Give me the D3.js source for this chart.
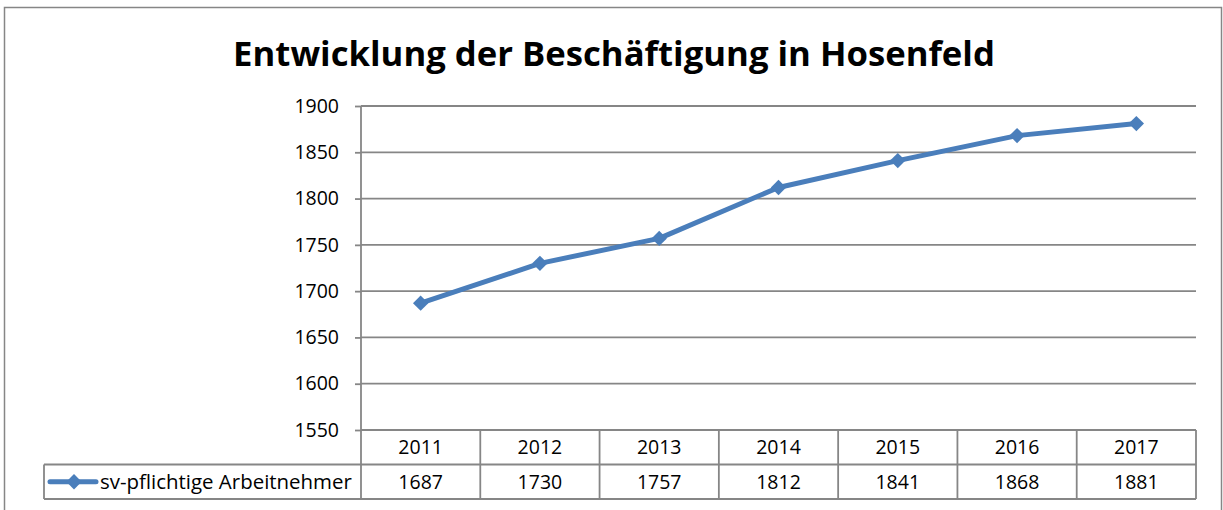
<!DOCTYPE html>
<html>
<head>
<meta charset="utf-8">
<script src="https://cdn.jsdelivr.net/npm/d3@7"></script>
<style>
  body { margin: 0; background: #fff; }
  text { font-family: "Open Sans", "Noto Sans", sans-serif; fill: #000; }
</style>
</head>
<body>
<div id="chart"></div>
<script>
// Data
const title = "Entwicklung der Beschäftigung in Hosenfeld";
const seriesName = "sv-pflichtige Arbeitnehmer";
const years = ["2011", "2012", "2013", "2014", "2015", "2016", "2017"];
const employees = [1687, 1730, 1757, 1812, 1841, 1868, 1881];
const yTicks = [1550, 1600, 1650, 1700, 1750, 1800, 1850, 1900];

const width = 1223, height = 510;
const plot = { left: 361, right: 1196, top: 106, bottom: 430 };
const rowH = 34.5;
const blue = "#4a7ebb";
const grey = "#868686";
const fontSize = "19.5px";

const svg = d3.select("#chart")
    .append("svg")
    .attr("width", width)
    .attr("height", height);

// Outer chart frame
svg.append("rect")
    .attr("x", 4.5).attr("y", 7.5)
    .attr("width", 1217).attr("height", 520)
    .attr("fill", "#fff")
    .attr("stroke", grey)
    .attr("stroke-width", 1.5);

// Title, scaled to its width in the reference
const titleText = svg.append("text")
    .attr("x", 614)
    .attr("y", 66)
    .attr("text-anchor", "middle")
    .style("font-weight", "bold")
    .style("font-size", "32px")
    .text(title);
const tw = titleText.node().getComputedTextLength();
titleText.style("font-size", (32 * 762 / tw) + "px");

// Scales
const x = d3.scaleBand()
    .domain(years)
    .range([plot.left, plot.right])
    .padding(0);

const y = d3.scaleLinear()
    .domain([1550, 1900])
    .range([plot.bottom, plot.top]);

// Gridlines
svg.append("g")
    .selectAll("line")
    .data(yTicks)
    .enter()
    .append("line")
    .attr("x1", plot.left)
    .attr("x2", plot.right)
    .attr("y1", d => y(d))
    .attr("y2", d => y(d))
    .attr("stroke", grey)
    .attr("stroke-width", 1.8);

// Y axis
const yAxis = d3.axisLeft(y)
    .tickValues(yTicks)
    .tickFormat(d3.format("d"))
    .tickSize(6)
    .tickPadding(16);

const yG = svg.append("g")
    .attr("transform", `translate(${plot.left},0)`)
    .call(yAxis);
yG.select(".domain").remove();
yG.selectAll(".tick line").attr("stroke", grey).attr("stroke-width", 1.8);
yG.selectAll(".tick text")
    .style("font-family", "'Open Sans', sans-serif")
    .style("font-size", fontSize)
    .attr("fill", "#000");

// Data table
const table = svg.append("g").attr("fill", "none").attr("stroke", grey).attr("stroke-width", 1.8);
const tBottom = plot.bottom + 2 * rowH;
// vertical axis line running down through table
table.append("line")
    .attr("x1", plot.left).attr("x2", plot.left)
    .attr("y1", plot.top).attr("y2", tBottom);
// column separators
table.selectAll(".col")
    .data(years)
    .enter()
    .append("line")
    .attr("class", "col")
    .attr("x1", d => x(d) + x.bandwidth())
    .attr("x2", d => x(d) + x.bandwidth())
    .attr("y1", plot.bottom)
    .attr("y2", tBottom);
// horizontal rows
table.append("line")
    .attr("x1", 44).attr("x2", plot.right)
    .attr("y1", plot.bottom + rowH).attr("y2", plot.bottom + rowH);
table.append("line")
    .attr("x1", 44).attr("x2", plot.right)
    .attr("y1", tBottom).attr("y2", tBottom);
table.append("line")
    .attr("x1", 44).attr("x2", 44)
    .attr("y1", plot.bottom + rowH).attr("y2", tBottom);

// Year labels
svg.append("g")
    .selectAll("text")
    .data(years)
    .enter()
    .append("text")
    .attr("x", d => x(d) + x.bandwidth() / 2)
    .attr("y", plot.bottom + rowH / 2)
    .attr("dy", "0.35em")
    .attr("text-anchor", "middle")
    .style("font-size", fontSize)
    .text(d => d);

// Value labels
svg.append("g")
    .selectAll("text")
    .data(employees)
    .enter()
    .append("text")
    .attr("x", (d, i) => x(years[i]) + x.bandwidth() / 2)
    .attr("y", plot.bottom + rowH * 1.5)
    .attr("dy", "0.35em")
    .attr("text-anchor", "middle")
    .style("font-size", fontSize)
    .text(d => d);

// Line
const line = d3.line()
    .x((d, i) => x(years[i]) + x.bandwidth() / 2)
    .y(d => y(d));

svg.append("path")
    .datum(employees)
    .attr("d", line)
    .attr("fill", "none")
    .attr("stroke", blue)
    .attr("stroke-width", 5)
    .attr("stroke-linejoin", "round");

// Diamond markers
const diamond = d3.symbol().type(d3.symbolDiamond2).size(150);
svg.append("g")
    .selectAll("path")
    .data(employees)
    .enter()
    .append("path")
    .attr("d", diamond)
    .attr("transform", (d, i) => `translate(${x(years[i]) + x.bandwidth() / 2},${y(d)})`)
    .attr("fill", blue);

// Legend key in table
const ly = plot.bottom + rowH * 1.5;
svg.append("line")
    .attr("x1", 50).attr("x2", 96)
    .attr("y1", ly).attr("y2", ly)
    .attr("stroke", blue)
    .attr("stroke-width", 5)
    .attr("stroke-linecap", "round");
svg.append("path")
    .attr("d", diamond)
    .attr("transform", `translate(74,${ly})`)
    .attr("fill", blue);
const legText = svg.append("text")
    .attr("x", 100)
    .attr("y", ly)
    .attr("dy", "0.35em")
    .style("font-size", fontSize)
    .text(seriesName);
const lw = legText.node().getComputedTextLength();
legText.style("font-size", (19.5 * 252 / lw) + "px");
</script>
</body>
</html>
